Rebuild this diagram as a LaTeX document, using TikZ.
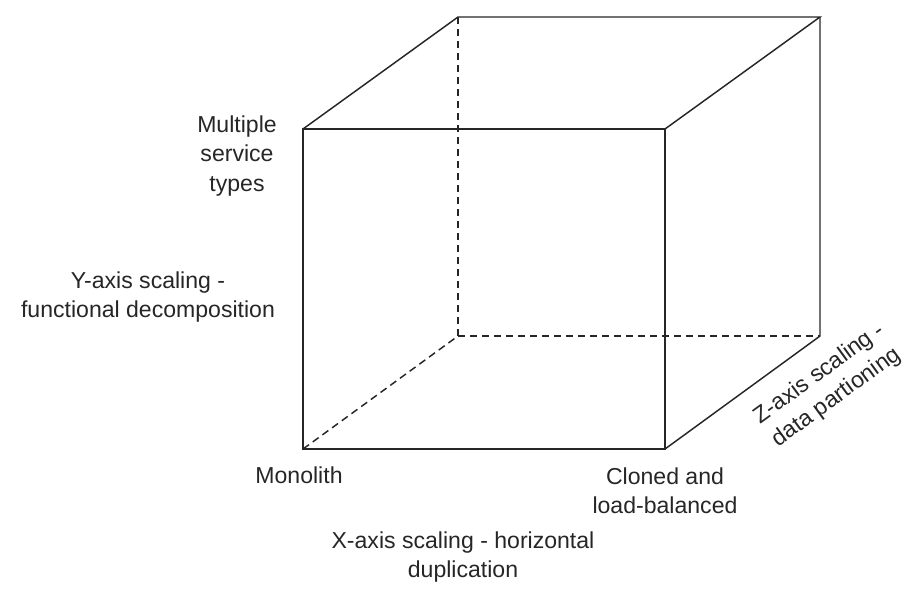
\documentclass[tikz,border=0pt]{standalone}
\usepackage{fontspec}
\setmainfont{Liberation Sans}
\begin{document}
\begin{tikzpicture}[x=0.75pt,y=-0.75pt,
  edge/.style={draw=black!85,line width=1.1pt,line join=miter},
  hidden/.style={draw=black!85,line width=1.1pt,dash pattern=on 5.5pt off 3.5pt},
  lbl/.style={inner sep=0pt,align=center,text=black!85,font=\fontsize{17.3pt}{21.8pt}\selectfont}]
\useasboundingbox (0,0) rectangle (920,601);
% cube corners
\coordinate (ftl) at (303,129);
\coordinate (ftr) at (665,129);
\coordinate (fbl) at (303,449);
\coordinate (fbr) at (665,449);
\coordinate (btl) at (458,17);
\coordinate (btr) at (820,17);
\coordinate (bbl) at (458,336);
\coordinate (bbr) at (820,336);
% hidden edges
\draw[hidden] (fbl) -- (bbl);
\draw[hidden] (btl) -- (bbl);
\draw[hidden] (bbl) -- (bbr);
% visible edges
\draw[edge] (ftl) -- (ftr) -- (fbr) -- (fbl) -- cycle;
\draw[edge] (ftl) -- (btl) -- (btr) -- (ftr);
\draw[edge] (btr) -- (bbr) -- (fbr);
% labels
\node[lbl] (multi) at (237,156) {Multiple\\service\\types};
\node[lbl] (yaxis) at (148,297) {Y-axis scaling -\\functional decomposition};
\node[lbl] (mono) at (299,475) {Monolith};
\node[lbl] (clone) at (665,491) {Cloned and\\load-balanced};
\node[lbl] (xaxis) at (463,557) {X-axis scaling - horizontal\\duplication};
\node[lbl,rotate=36] (zaxis) at (828,386) {Z-axis scaling -\\data partioning};
\end{tikzpicture}
\end{document}
